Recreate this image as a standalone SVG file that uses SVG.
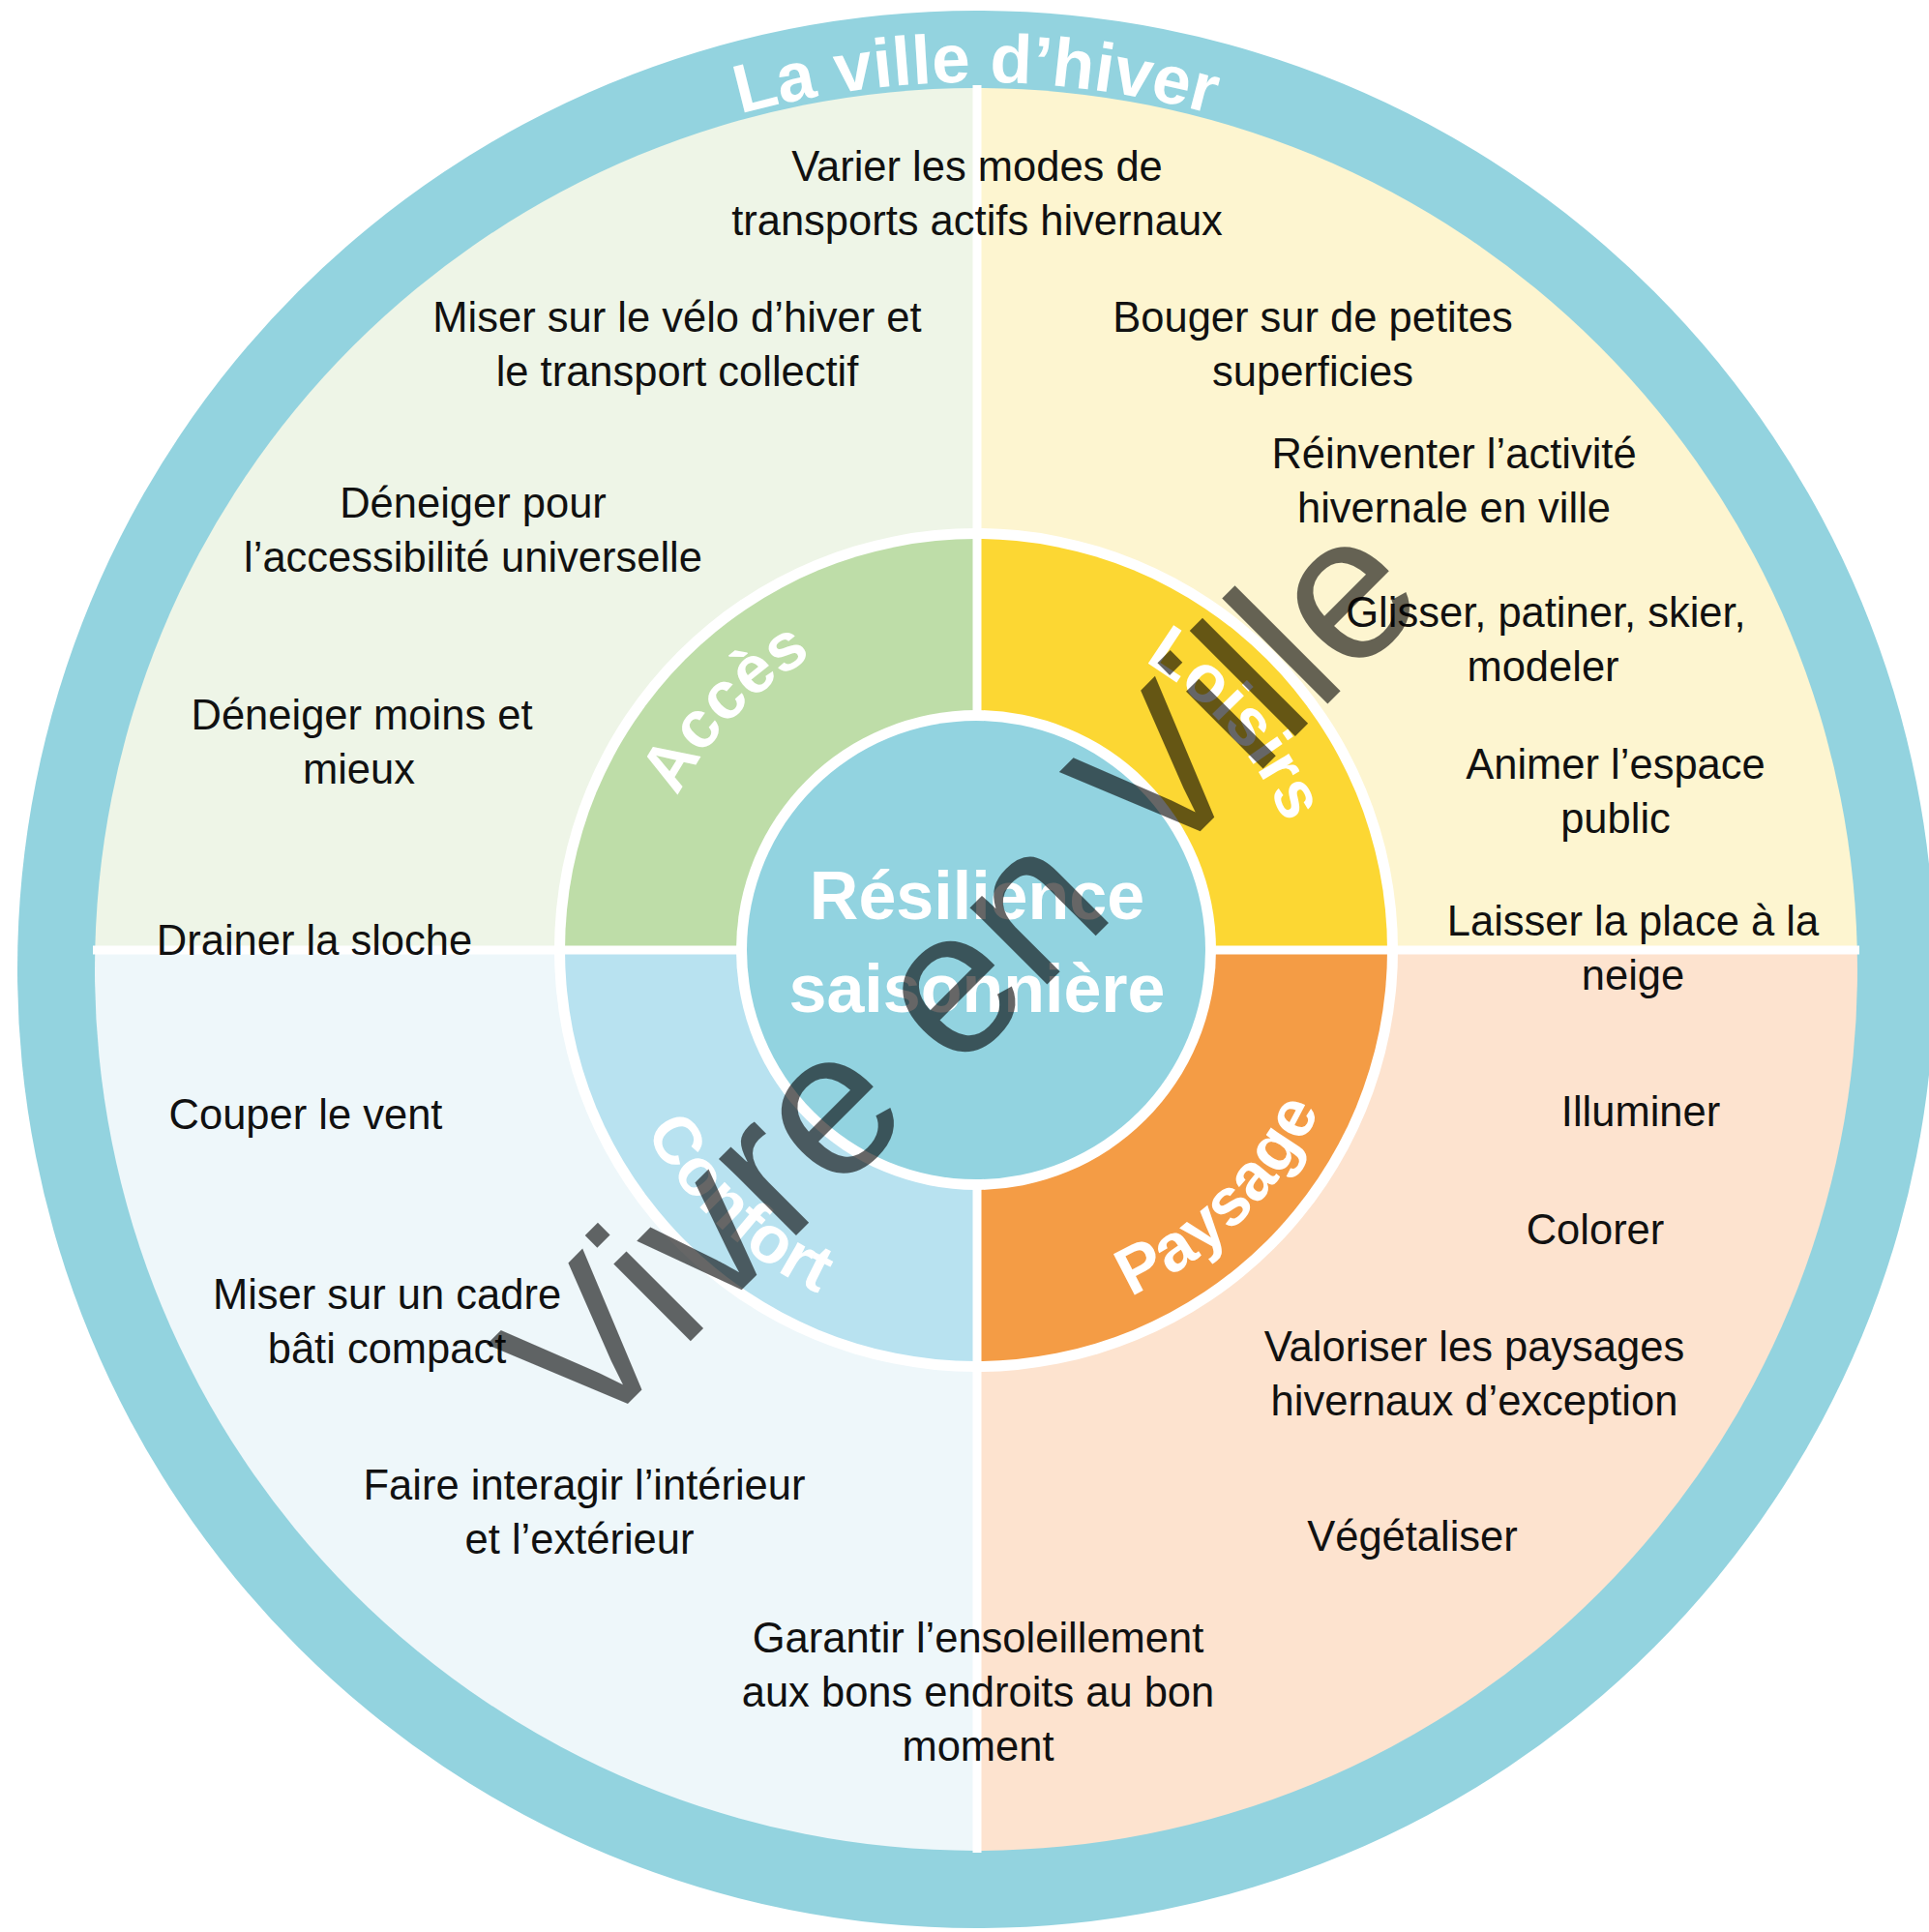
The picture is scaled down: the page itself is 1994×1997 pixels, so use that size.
<svg xmlns="http://www.w3.org/2000/svg" width="1994" height="1997" viewBox="0 0 1994 1997">
<style>
.t{font-family:"Liberation Sans",Arial,sans-serif;font-size:43.5px;fill:#111;text-anchor:middle}
.lab{font-family:"Liberation Sans",Arial,sans-serif;font-weight:bold;font-size:69px;fill:#fff}
.title{font-family:"Liberation Sans",Arial,sans-serif;font-weight:bold;font-size:71px;fill:#fff}
.ctr{font-family:"Liberation Sans",Arial,sans-serif;font-weight:bold;font-size:70px;fill:#fff;text-anchor:middle}
.wm{font-family:"Liberation Sans",Arial,sans-serif;font-size:213px;fill:#000;fill-opacity:0.6}
</style>
<defs>
<clipPath id="inner"><circle cx="1009" cy="1002" r="911"/></clipPath>
<path id="titleArc" d="M 213.1 544.5 A 919 919 0 0 1 1804.9 544.5"/>
<path id="arcAcces" d="M 675.4 1077.6 A 347 347 0 0 1 1092.9 645.3"/>
<path id="arcLoisirs" d="M 943.2 643.3 A 345 345 0 0 1 1335.2 1094.3"/>
<path id="arcConfort" d="M 629 894.2 A 392 392 0 0 0 1123 1357"/>
<path id="arcPaysage" d="M 904.8 1359.8 A 392 392 0 0 0 1388.6 884.3"/>
</defs>
<rect width="1994" height="1997" fill="#fff"/>
<g id="outer-ring">
<circle cx="1009" cy="1002" r="991" fill="#93D3DF"/>
<text class="title"><textPath href="#titleArc" startOffset="50%" text-anchor="middle">La ville d’hiver</textPath></text>
</g>
<g id="quadrants" clip-path="url(#inner)">
<rect x="0" y="0" width="1010" height="982" fill="#EEF5E7"/>
<rect x="1010" y="0" width="984" height="982" fill="#FDF5D0"/>
<rect x="0" y="982" width="1010" height="1015" fill="#EEF7FA"/>
<rect x="1010" y="982" width="984" height="1015" fill="#FDE3CF"/>
</g>
<g id="middle-ring">
<circle cx="1009" cy="982" r="436" fill="#fff"/>
<path id="sec-acces" d="M1009 982 L584 982 A425 425 0 0 1 1009 557 Z" fill="#BEDDA8"/>
<path id="sec-loisirs" d="M1009 982 L1009 557 A425 425 0 0 1 1434 982 Z" fill="#FCD733"/>
<path id="sec-paysage" d="M1009 982 L1434 982 A425 425 0 0 1 1009 1407 Z" fill="#F49C45"/>
<path id="sec-confort" d="M1009 982 L1009 1407 A425 425 0 0 1 584 982 Z" fill="#B8E2F0"/>
</g>
<g id="dividers" stroke="#fff" stroke-width="9">
<line x1="1010" y1="88" x2="1010" y2="1915"/>
<line x1="96" y1="982" x2="1922" y2="982"/>
</g>
<g id="labels">
<text class="lab"><textPath href="#arcAcces" startOffset="50%" text-anchor="middle">Accès</textPath></text>
<text class="lab"><textPath href="#arcLoisirs" startOffset="50%" text-anchor="middle">Loisirs</textPath></text>
<text class="lab"><textPath href="#arcConfort" startOffset="50%" text-anchor="middle">Confort</textPath></text>
<text class="lab"><textPath href="#arcPaysage" startOffset="50%" text-anchor="middle">Paysage</textPath></text>
</g>
<g id="center">
<circle cx="1009" cy="982" r="248" fill="#fff"/>
<circle cx="1009" cy="982" r="237" fill="#92D3E0"/>
<text class="ctr" x="1010" y="950">Résilience</text>
<text class="ctr" x="1010" y="1046">saisonnière</text>
</g>
<g id="n1"><text class="t" x="1010" y="187">Varier les modes de</text><text class="t" x="1010" y="243">transports actifs hivernaux</text></g>
<g id="n2"><text class="t" x="700" y="343">Miser sur le vélo d’hiver et</text><text class="t" x="700" y="399">le transport collectif</text></g>
<g id="n3"><text class="t" x="489" y="535">Déneiger pour</text><text class="t" x="489" y="591">l’accessibilité universelle</text></g>
<g id="n4"><text class="t" x="374" y="754">Déneiger moins et</text><text class="t" x="371" y="810">mieux</text></g>
<g id="n5"><text class="t" x="325" y="987">Drainer la sloche</text></g>
<g id="n6"><text class="t" x="316" y="1167">Couper le vent</text></g>
<g id="n7"><text class="t" x="400" y="1353">Miser sur un cadre</text><text class="t" x="400" y="1409">bâti compact</text></g>
<g id="n8"><text class="t" x="604" y="1550">Faire interagir l’intérieur</text><text class="t" x="599" y="1606">et l’extérieur</text></g>
<g id="n9"><text class="t" x="1011" y="1708">Garantir l’ensoleillement</text><text class="t" x="1011" y="1764">aux bons endroits au bon</text><text class="t" x="1011" y="1820">moment</text></g>
<g id="n10"><text class="t" x="1357" y="343">Bouger sur de petites</text><text class="t" x="1357" y="399">superficies</text></g>
<g id="n11"><text class="t" x="1503" y="484">Réinventer l’activité</text><text class="t" x="1503" y="540">hivernale en ville</text></g>
<g id="n12"><text class="t" x="1598" y="648">Glisser, patiner, skier,</text><text class="t" x="1595" y="704">modeler</text></g>
<g id="n13"><text class="t" x="1670" y="805">Animer l’espace</text><text class="t" x="1670" y="861">public</text></g>
<g id="n14"><text class="t" x="1688" y="967">Laisser la place à la</text><text class="t" x="1688" y="1023">neige</text></g>
<g id="n15"><text class="t" x="1696" y="1164">Illuminer</text></g>
<g id="n16"><text class="t" x="1649" y="1286">Colorer</text></g>
<g id="n17"><text class="t" x="1524" y="1407">Valoriser les paysages</text><text class="t" x="1524" y="1463">hivernaux d’exception</text></g>
<g id="n18"><text class="t" x="1460" y="1603">Végétaliser</text></g>
<g id="watermark"><text class="wm" transform="translate(606,1494) rotate(-45)">Vivre en Ville</text></g>
</svg>
